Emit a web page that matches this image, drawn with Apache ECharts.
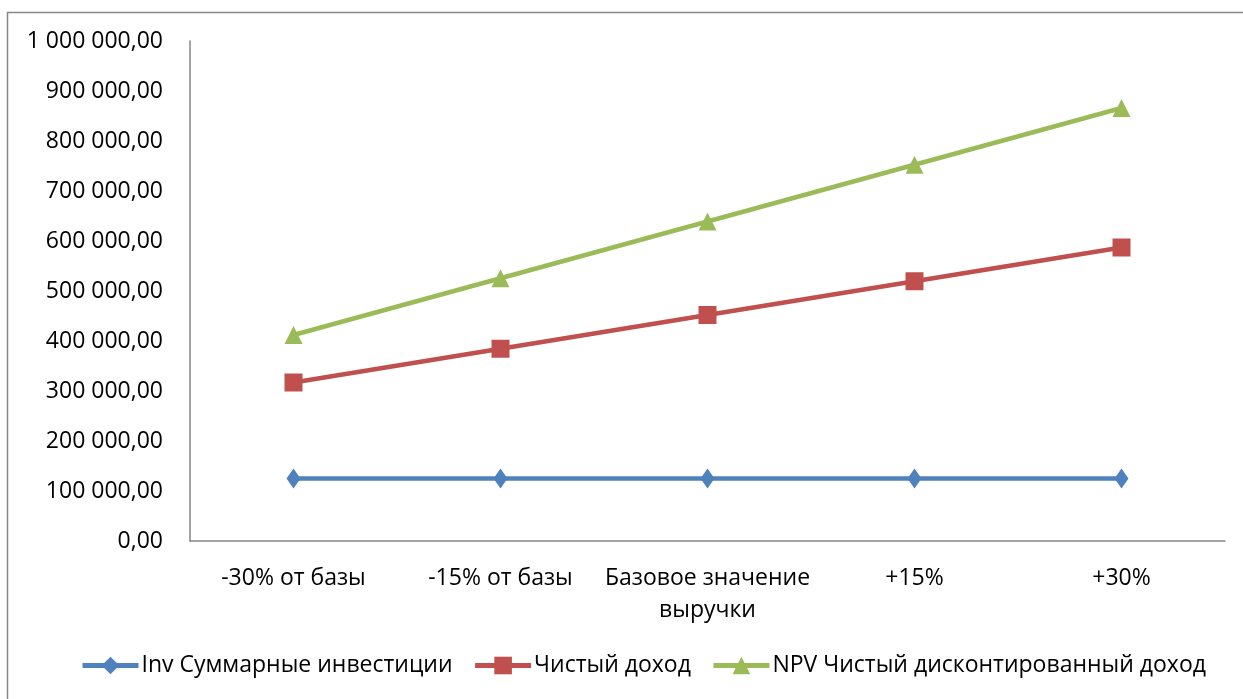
<!DOCTYPE html>
<html><head><meta charset="utf-8">
<script src="https://cdn.jsdelivr.net/npm/echarts@6/dist/echarts.min.js"></script>
<style>html,body{margin:0;padding:0;background:#fff}#c{width:1243px;height:699px}</style>
</head><body><div id="c"></div>
<script>
const categories = ['-30% от базы', '-15% от базы', 'Базовое значение\nвыручки', '+15%', '+30%'];
const invValues = [125000, 125000, 125000, 125000, 125000];
const netIncome = [317000, 384500, 452000, 519500, 587000];
const npvValues = [412000, 525500, 639000, 752500, 866000];
const seriesNames = ['Inv Суммарные инвестиции', 'Чистый доход', 'NPV Чистый дисконтированный доход'];
const colors = ['#4f81bd', '#c0504d', '#9bbb59'];
const symbols = ['diamond', 'rect', 'triangle'];
const symbolSizes = [[14, 20], [18, 18], [18, 18]];

const font = '"Open Sans", "Liberation Sans", sans-serif';
function fmt(v) {
  const s = Math.round(v).toString().replace(/\B(?=(\d{3})+(?!\d))/g, ' ');
  return s + ',00';
}
const chart = echarts.init(document.getElementById('c'));
const data = [invValues, netIncome, npvValues];
chart.setOption({
  animation: false,
  graphic: [{
    type: 'polyline', silent: true,
    shape: { points: [[7.5, 700], [7.5, 12.5], [1250, 12.5]] },
    style: { stroke: '#868686', lineWidth: 1.5, fill: null }
  }],
  grid: { left: 190, right: 18, top: 41, bottom: 158 },
  xAxis: {
    type: 'category', data: categories, boundaryGap: true,
    axisLine: { lineStyle: { color: '#868686', width: 1.5 } },
    axisTick: { show: false },
    axisLabel: { color: '#000', fontSize: 23, fontFamily: font, margin: 21, lineHeight: 32, interval: 0 }
  },
  yAxis: {
    type: 'value', min: 0, max: 1000000, interval: 100000,
    splitLine: { show: false },
    axisLine: { show: true, lineStyle: { color: '#868686', width: 1.5 } },
    axisTick: { show: false },
    axisLabel: { color: '#000', fontSize: 23, fontFamily: font, margin: 27, formatter: fmt }
  },
  legend: {
    top: 649, left: 75, itemWidth: 56, itemHeight: 22, itemGap: 20,
    textStyle: { color: '#000', fontSize: 23, fontFamily: font, padding: [0, 0, 0, -2] },
    data: seriesNames.map(n => ({ name: n, lineStyle: { width: 5 } }))
  },
  series: seriesNames.map((n, i) => ({
    name: n, type: 'line', data: data[i],
    symbol: symbols[i], symbolSize: symbolSizes[i], showSymbol: true,
    lineStyle: { color: colors[i], width: 4.5 },
    itemStyle: { color: colors[i] }
  }))
});
</script></body></html>
